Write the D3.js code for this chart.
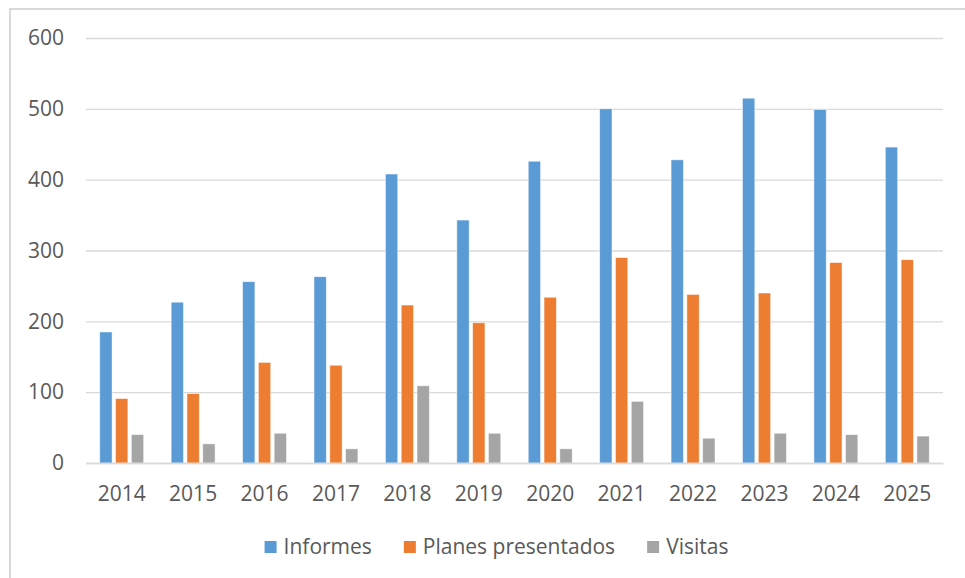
<!DOCTYPE html>
<html>
<head>
<meta charset="utf-8">
<script src="https://cdn.jsdelivr.net/npm/d3@7/dist/d3.min.js"></script>
<style>
  body { margin: 0; background: #fff; }
  svg { display: block; font-family: "Open Sans", sans-serif; }
</style>
</head>
<body>
<svg id="chart" width="965" height="578"></svg>
<script>
// data
var years = ['2014', '2015', '2016', '2017', '2018', '2019', '2020', '2021', '2022', '2023', '2024', '2025'];
var informes = [185, 227, 256, 263, 408, 343, 426, 500, 428, 515, 499, 446];
var planes = [91, 98, 142, 138, 223, 198, 234, 290, 238, 240, 283, 287];
var visitas = [40, 27, 42, 20, 109, 42, 20, 87, 35, 42, 40, 38];
var seriesNames = ['Informes', 'Planes presentados', 'Visitas'];
var yTicks = [0, 100, 200, 300, 400, 500, 600];

var colors = ['#5b9bd5', '#ed7d31', '#a5a5a5'];
var seriesValues = [informes, planes, visitas];
var fontSize = 21;

var svg = d3.select('#chart');
var margin = {left: 86, right: 22, top: 38, bottom: 115};
var width = 965 - margin.left - margin.right;
var height = 578 - margin.top - margin.bottom;

// frame (top and left edges only are visible)
svg.append('path')
    .attr('d', 'M10,578 L10,9 L965,9')
    .attr('fill', 'none')
    .attr('stroke', '#d9d9d9')
    .attr('stroke-width', 2);

var g = svg.append('g').attr('transform', 'translate(' + margin.left + ',' + margin.top + ')');

var x0 = d3.scaleBand().domain(years).range([0, width]).paddingInner(0.385).paddingOuter(0.1925);
var x1 = d3.scaleBand().domain(d3.range(3)).range([0, x0.bandwidth()]).paddingInner(0.22);
var y = d3.scaleLinear().domain([0, 600]).range([height, 0]);

// grid + y labels
var yAxis = g.append('g')
    .call(d3.axisLeft(y).tickValues(yTicks).tickSize(-width).tickPadding(22));
yAxis.select('.domain').remove();
yAxis.selectAll('.tick line').attr('stroke', '#d9d9d9').attr('stroke-width', 1.3);
yAxis.selectAll('.tick text')
    .attr('fill', '#595959')
    .attr('font-size', fontSize)
    .attr('font-family', '"Open Sans", sans-serif');

// bars
var rows = years.map(function (yr, i) {
    return {year: yr, vals: seriesValues.map(function (s) { return s[i]; })};
});
var groups = g.selectAll('.grp').data(rows).enter().append('g')
    .attr('transform', function (d) { return 'translate(' + x0(d.year) + ',0)'; });
groups.selectAll('rect')
    .data(function (d) { return d.vals.map(function (v, k) { return {k: k, v: v}; }); })
    .enter().append('rect')
    .attr('x', function (d) { return x1(d.k); })
    .attr('width', x1.bandwidth())
    .attr('y', function (d) { return y(d.v); })
    .attr('height', function (d) { return y(0) - y(d.v); })
    .attr('fill', function (d) { return colors[d.k]; })
    .attr('stroke', '#fff')
    .attr('stroke-opacity', 0.6)
    .attr('stroke-width', 0.8);

// x axis
var xAxis = g.append('g')
    .attr('transform', 'translate(0,' + height + ')')
    .call(d3.axisBottom(x0).tickSize(0).tickPadding(23));
xAxis.select('.domain').attr('stroke', '#d9d9d9').attr('stroke-width', 1.3);
xAxis.selectAll('.tick text')
    .attr('fill', '#595959')
    .attr('font-size', fontSize)
    .attr('font-family', '"Open Sans", sans-serif');

// legend
var legend = svg.append('g');
var lx = 0;
seriesNames.forEach(function (name, i) {
    var item = legend.append('g').attr('transform', 'translate(' + lx + ',0)');
    item.append('rect').attr('x', 0).attr('y', -6).attr('width', 12).attr('height', 12).attr('fill', colors[i]);
    var t = item.append('text')
        .attr('x', 19)
        .attr('dy', '0.35em')
        .attr('fill', '#595959')
        .attr('font-size', fontSize)
        .text(name);
    lx += 19 + t.node().getComputedTextLength() + 32;
});
lx -= 32;
legend.attr('transform', 'translate(' + ((965 - lx) / 2 + 14) + ',547)');
</script>
</body>
</html>
